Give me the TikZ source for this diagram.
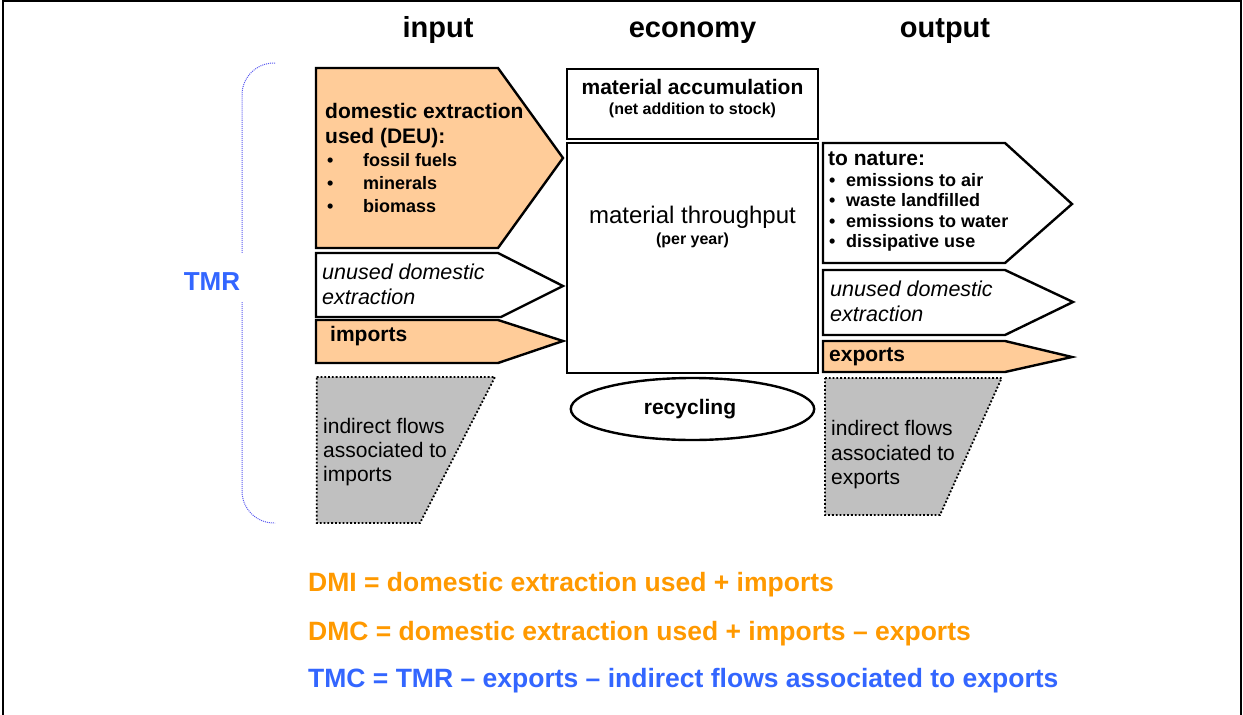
\documentclass[tikz,border=0pt]{standalone}
\usepackage{fontspec}
\setmainfont{Liberation Sans}
\usepackage{tikz}
\usepackage{xcolor}
\definecolor{peach}{RGB}{255,204,153}
\definecolor{flowgray}{RGB}{192,192,192}
\definecolor{tmrblue}{RGB}{51,102,255}
\definecolor{dmiorange}{RGB}{255,153,0}
\definecolor{bracelilac}{RGB}{90,90,240}

\begin{document}
\begin{tikzpicture}[x=1pt,y=-1pt]
\tikzstyle{every node}+=[inner sep=0pt]
\tikzstyle{flow}=[draw=black,line width=2.4pt,line join=miter]
\tikzstyle{indirect}=[draw=black,line width=1.8pt,dotted,fill=flowgray]
\tikzstyle{head}=[anchor=base,font=\fontsize{29}{34}\selectfont\bfseries]
\tikzstyle{lbl}=[anchor=base west,font=\fontsize{21}{25}\selectfont\bfseries]
\tikzstyle{bul}=[anchor=base west,font=\fontsize{18}{21}\selectfont\bfseries]
\tikzstyle{small}=[anchor=base,font=\fontsize{16}{19}\selectfont\bfseries]
\tikzstyle{unused}=[anchor=base west,font=\fontsize{21.5}{25}\selectfont\itshape]
\tikzstyle{plain}=[anchor=base west,font=\fontsize{21}{25}\selectfont]
\tikzstyle{formula}=[anchor=base west,font=\fontsize{26.5}{31}\selectfont\bfseries]
\useasboundingbox (0,0) rectangle (1243,715);
% frame, open at the bottom
\draw [black,line width=2.5pt] (3,715) -- (3,1) -- (1241,1) -- (1241,715);
% column titles
\draw (438,37) node [head] (hin) {input};
\draw (692.5,37) node [head] (hecon) {economy};
\draw (945,37) node [head] (hout) {output};
% TMR brace
\draw [bracelilac,line width=1pt,densely dotted,rounded corners=32pt] (275,63) -- (242,63) -- (242,253);
\draw [bracelilac,line width=1pt,densely dotted,rounded corners=32pt] (242,302) -- (242,523) -- (275,523);
\draw (212,290) node [anchor=base,text=tmrblue,font=\fontsize{26}{30}\selectfont\bfseries] (tmr) {TMR};
% input side
\draw [flow,fill=peach] (316,68) -- (498,68) -- (563,158) -- (498,248) -- (316,248) -- cycle;
\draw (325,118) node [lbl] (deu1) {domestic extraction};
\draw (325,143) node [lbl] (deu2) {used (DEU):};
\draw (327,166) node [bul] (deua) {\makebox[36pt][l]{•}fossil fuels};
\draw (327,189) node [bul] (deub) {\makebox[36pt][l]{•}minerals};
\draw (327,212) node [bul] (deuc) {\makebox[36pt][l]{•}biomass};
\draw [flow,fill=white] (316,253) -- (498,253) -- (563,286) -- (501,317) -- (316,317) -- cycle;
\draw (322,279) node [unused] (ude1) {unused domestic};
\draw (322,304) node [unused] (ude2) {extraction};
\draw [flow,fill=peach] (316,320) -- (498,320) -- (563,341) -- (498,363) -- (316,363) -- cycle;
\draw (330,341) node [lbl] (imp) {imports};
\draw [indirect] (316.7,377) -- (495,377) -- (420,523) -- (316.7,523) -- cycle;
\draw (323,433) node [plain] (ifi1) {indirect flows};
\draw (323,457) node [plain] (ifi2) {associated to};
\draw (323,481) node [plain] (ifi3) {imports};
% economy
\draw [flow] (567,69) rectangle (818,139);
\draw (692.5,94) node [anchor=base,font=\fontsize{21}{25}\selectfont\bfseries] (acc) {material accumulation};
\draw (692.5,114) node [small] (stock) {(net addition to stock)};
\draw [flow] (567,143) rectangle (818,373);
\draw (692.5,223) node [anchor=base,font=\fontsize{24}{28}\selectfont] (thru) {material throughput};
\draw (692.5,244) node [small] (year) {(per year)};
\draw [flow] (692.5,409) ellipse (121.7 and 31);
\draw (690,414) node [anchor=base,font=\fontsize{21}{25}\selectfont\bfseries] (recyc) {recycling};
% output side
\draw [flow,fill=white] (823,143) -- (1005,143) -- (1072,204) -- (1005,263) -- (823,263) -- cycle;
\draw (828,165) node [lbl] (nat) {to nature:};
\draw (829,186) node [bul] (nata) {\makebox[17pt][l]{•}emissions to air};
\draw (829,206) node [bul] (natb) {\makebox[17pt][l]{•}waste landfilled};
\draw (829,227) node [bul] (natc) {\makebox[17pt][l]{•}emissions to water};
\draw (829,247) node [bul] (natd) {\makebox[17pt][l]{•}dissipative use};
\draw [flow,fill=white] (823,270) -- (1005,270) -- (1073,302) -- (1005,335) -- (823,335) -- cycle;
\draw (830,296) node [unused] (ode1) {unused domestic};
\draw (830,321) node [unused] (ode2) {extraction};
\draw [flow,fill=peach] (823,341) -- (1005,341) -- (1072,357) -- (1005,372) -- (823,372) -- cycle;
\draw (829,361) node [lbl] (exp) {exports};
\draw [indirect] (825,378) -- (1001.7,378) -- (940,515) -- (825,515) -- cycle;
\draw (831,435) node [plain] (ife1) {indirect flows};
\draw (831,460) node [plain] (ife2) {associated to};
\draw (831,484) node [plain] (ife3) {exports};
% indicators
\draw (308,591) node [formula,text=dmiorange] (dmi) {DMI = domestic extraction used + imports};
\draw (308,640) node [formula,text=dmiorange] (dmc) {DMC = domestic extraction used + imports – exports};
\draw (308,687) node [formula,text=tmrblue] (tmc) {TMC = TMR – exports – indirect flows associated to exports};
\end{tikzpicture}
\end{document}
